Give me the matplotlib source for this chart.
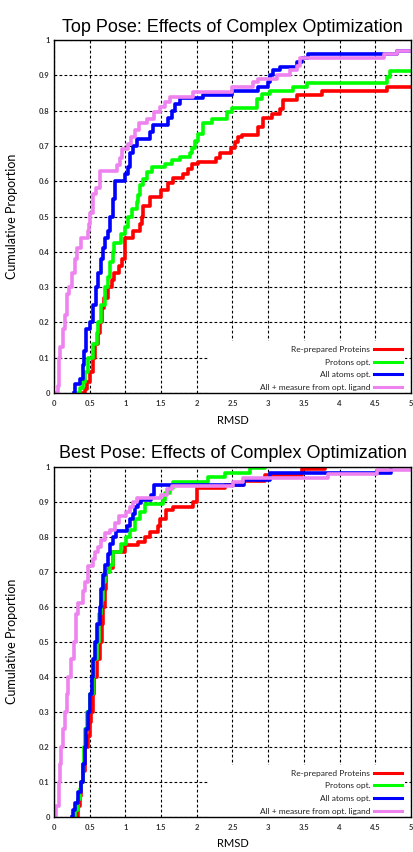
import matplotlib
matplotlib.use('Agg')
import matplotlib.pyplot as plt
from matplotlib.patches import Rectangle



### Data ###

series_labels = ['Re-prepared Proteins', 'Protons opt.', 'All atoms opt.', 'All + measure from opt. ligand']
series_colors = ['#ff0000', '#00ff00', '#0000ff', '#ee82ee']

x_ticks = [0, 0.5, 1, 1.5, 2, 2.5, 3, 3.5, 4, 4.5, 5]
x_tick_labels = ['0', '0.5', '1', '1.5', '2', '2.5', '3', '3.5', '4', '4.5', '5']
y_ticks = [0, 0.1, 0.2, 0.3, 0.4, 0.5, 0.6, 0.7, 0.8, 0.9, 1]
y_tick_labels = ['0', '0.1', '0.2', '0.3', '0.4', '0.5', '0.6', '0.7', '0.8', '0.9', '1']

# Top pose (RMSD where each step starts, cumulative proportion from there on)
top_red_x = [0.37, 0.43, 0.46, 0.50, 0.54, 0.58, 0.62, 0.64, 0.67, 0.70, 0.75, 0.81, 0.84, 0.91, 0.95,
             1.00, 1.10, 1.20, 1.23, 1.25, 1.35, 1.50, 1.60, 1.66, 1.81, 1.88, 1.94, 2.02, 2.27, 2.32,
             2.48, 2.53, 2.58, 2.63, 2.86, 2.93, 3.05, 3.17, 3.21, 3.40, 3.75, 4.66, 5.00]
top_red_y = [0, 0.01, 0.03, 0.06, 0.10, 0.14, 0.17, 0.20, 0.24, 0.27, 0.30, 0.32, 0.34, 0.36, 0.38,
             0.44, 0.46, 0.48, 0.50, 0.53, 0.555, 0.575, 0.595, 0.61, 0.62, 0.635, 0.65, 0.655, 0.665, 0.68,
             0.695, 0.71, 0.725, 0.73, 0.755, 0.78, 0.79, 0.805, 0.83, 0.845, 0.857, 0.867, 0.867]

top_green_x = [0.33, 0.36, 0.40, 0.44, 0.48, 0.54, 0.60, 0.62, 0.66, 0.72, 0.75, 0.78, 0.82, 0.84, 0.94,
               0.99, 1.04, 1.09, 1.16, 1.18, 1.20, 1.25, 1.30, 1.37, 1.55, 1.65, 1.76, 1.90, 1.94, 1.97,
               2.02, 2.09, 2.21, 2.42, 2.49, 2.84, 2.91, 3.03, 3.35, 3.54, 4.66, 4.71, 5.00]
top_green_y = [0, 0.015, 0.03, 0.06, 0.10, 0.14, 0.17, 0.20, 0.25, 0.30, 0.33, 0.37, 0.40, 0.425, 0.45,
               0.47, 0.50, 0.52, 0.54, 0.56, 0.59, 0.605, 0.625, 0.64, 0.65, 0.66, 0.67, 0.68, 0.695, 0.715,
               0.735, 0.765, 0.775, 0.795, 0.807, 0.833, 0.846, 0.857, 0.866, 0.878, 0.895, 0.912, 0.912]

top_blue_x = [0.28, 0.30, 0.37, 0.40, 0.42, 0.45, 0.51, 0.55, 0.59, 0.62, 0.66, 0.69, 0.72, 0.75, 0.79,
              0.82, 0.85, 1.00, 1.03, 1.07, 1.11, 1.16, 1.34, 1.38, 1.60, 1.65, 1.70, 1.76, 2.09, 2.49,
              2.86, 3.00, 3.03, 3.07, 3.17, 3.40, 3.47, 3.56, 4.62, 4.80, 5.00]
top_blue_y = [0, 0.025, 0.04, 0.08, 0.12, 0.18, 0.20, 0.25, 0.30, 0.34, 0.38, 0.41, 0.44, 0.46, 0.50,
              0.55, 0.60, 0.62, 0.64, 0.68, 0.70, 0.72, 0.74, 0.76, 0.78, 0.80, 0.82, 0.835, 0.845, 0.855,
              0.866, 0.88, 0.90, 0.915, 0.925, 0.937, 0.948, 0.96, 0.961, 0.97, 0.97]

top_pink_x = [0.03, 0.05, 0.07, 0.09, 0.12, 0.15, 0.18, 0.21, 0.25, 0.29, 0.32, 0.38, 0.47, 0.49, 0.51,
              0.54, 0.59, 0.64, 0.88, 0.92, 0.95, 1.04, 1.08, 1.13, 1.19, 1.30, 1.40, 1.48, 1.55, 1.63,
              1.95, 2.49, 2.79, 2.86, 3.12, 3.31, 3.40, 3.45, 4.62, 4.80, 5.00]
top_pink_y = [0, 0.02, 0.10, 0.13, 0.18, 0.22, 0.28, 0.30, 0.34, 0.38, 0.41, 0.44, 0.46, 0.48, 0.51,
              0.565, 0.58, 0.628, 0.645, 0.665, 0.69, 0.705, 0.725, 0.745, 0.765, 0.775, 0.795, 0.81, 0.825, 0.84,
              0.853, 0.868, 0.88, 0.89, 0.902, 0.915, 0.927, 0.948, 0.961, 0.97, 0.97]

# Best pose
best_red_x = [0.30, 0.33, 0.36, 0.38, 0.41, 0.44, 0.47, 0.50, 0.52, 0.54, 0.56, 0.60, 0.64, 0.67, 0.69,
              0.71, 0.73, 0.77, 0.83, 0.99, 1.18, 1.27, 1.34, 1.46, 1.49, 1.57, 1.67, 1.95, 2.00, 2.39,
              2.65, 2.95, 3.47, 3.80]
best_red_y = [0, 0.03, 0.06, 0.10, 0.13, 0.20, 0.23, 0.27, 0.30, 0.35, 0.40, 0.45, 0.50, 0.55, 0.60,
              0.65, 0.70, 0.71, 0.755, 0.775, 0.785, 0.80, 0.813, 0.83, 0.85, 0.875, 0.884, 0.90, 0.938, 0.948,
              0.96, 0.975, 0.993, 1.0]

best_green_x = [0.28, 0.30, 0.33, 0.36, 0.38, 0.40, 0.42, 0.44, 0.46, 0.50, 0.54, 0.565, 0.60, 0.63, 0.66,
                0.69, 0.72, 0.78, 0.83, 0.94, 1.01, 1.07, 1.14, 1.20, 1.28, 1.52, 1.56, 1.62, 1.67, 2.16,
                2.39, 2.74, 2.96]
best_green_y = [0, 0.02, 0.05, 0.08, 0.10, 0.15, 0.20, 0.25, 0.30, 0.35, 0.40, 0.45, 0.50, 0.58, 0.62,
                0.67, 0.70, 0.72, 0.755, 0.78, 0.80, 0.82, 0.85, 0.87, 0.893, 0.905, 0.925, 0.94, 0.957, 0.97,
                0.983, 0.995, 1.0]

best_blue_x = [0.25, 0.27, 0.30, 0.34, 0.38, 0.40, 0.43, 0.45, 0.48, 0.50, 0.53, 0.55, 0.58, 0.60, 0.64,
               0.66, 0.69, 0.72, 0.76, 0.79, 0.83, 0.87, 1.02, 1.06, 1.10, 1.14, 1.18, 1.22, 1.36, 1.40,
               2.66, 3.02, 4.72]
best_blue_y = [0, 0.02, 0.04, 0.07, 0.10, 0.15, 0.20, 0.25, 0.30, 0.35, 0.40, 0.45, 0.50, 0.55, 0.60,
               0.65, 0.69, 0.72, 0.75, 0.78, 0.80, 0.815, 0.83, 0.85, 0.865, 0.885, 0.895, 0.905, 0.92, 0.947,
               0.962, 0.982, 1.0]

best_pink_x = [0.02, 0.03, 0.07, 0.09, 0.10, 0.12, 0.15, 0.18, 0.20, 0.24, 0.28, 0.31, 0.34, 0.40, 0.43,
               0.48, 0.55, 0.58, 0.62, 0.66, 0.71, 0.78, 0.85, 0.91, 1.01, 1.07, 1.10, 1.16, 1.50, 1.58,
               1.65, 2.51, 2.65, 3.84, 4.52, 5.00]
best_pink_y = [0, 0.03, 0.10, 0.15, 0.20, 0.25, 0.30, 0.35, 0.40, 0.45, 0.50, 0.58, 0.61, 0.645, 0.67,
               0.715, 0.735, 0.755, 0.77, 0.79, 0.81, 0.82, 0.84, 0.86, 0.87, 0.885, 0.90, 0.91, 0.92, 0.935,
               0.945, 0.955, 0.967, 0.98, 0.99, 0.99]



### Draw one panel ###

def draw_panel(ax, title, xs, ys):

    # Curves, drawn red first so the violet one ends up on top
    for x, y, c, lab in zip(xs, ys, series_colors, series_labels):
        ax.step(x, y, where='post', color=c, lw=2.6, label=lab, zorder=2)

    ax.set_xlim(0, 5)
    ax.set_ylim(0, 1)
    ax.set_xticks(x_ticks)
    ax.set_xticklabels(x_tick_labels)
    ax.set_yticks(y_ticks)
    ax.set_yticklabels(y_tick_labels)
    ax.tick_params(length=0, labelsize=5.5, labelcolor='#333333')
    ax.tick_params(axis='x', pad=5)
    ax.tick_params(axis='y', pad=3)
    for t in ax.get_xticklabels() + ax.get_yticklabels():
        t.set_family('Lato')
        t.set_fontweight('bold')

    # gnuplot style dotted grid
    ax.set_axisbelow(True)
    ax.grid(True, color='black', lw=0.8, linestyle=(0, (2.5, 2)))
    for s in ax.spines.values():
        s.set_linewidth(1.0)

    # White box behind the key hides the grid there
    ax.add_patch(Rectangle((2.17, 0), 2.75, 0.148, facecolor='white', edgecolor='none', zorder=1))

    leg = ax.legend(loc='lower right', bbox_to_anchor=(0.976, 0.006), frameon=False, markerfirst=False,
                    prop={'family': 'Lato', 'size': 6}, handlelength=3.4, handletextpad=0.45,
                    labelspacing=0.68, borderpad=0, borderaxespad=0)
    for t in leg.get_texts():
        t.set_color('#222222')
    for h in leg.get_lines():
        h.set_linewidth(2.2)

    ax.set_title(title, family='Liberation Sans', fontsize=13, pad=6)
    ax.set_xlabel('RMSD', family='Lato', fontsize=8)
    ax.set_ylabel('Cumulative Proportion', family='Lato', fontsize=9)
    ax.xaxis.set_label_coords(0.5, -0.062)
    ax.yaxis.set_label_coords(-0.1, 0.5)



### Figure ###

fig = plt.figure(figsize=(4.14, 8.52), dpi=100)

ax_top = fig.add_axes([0.1304, 0.5387, 0.8623, 0.4143])
draw_panel(ax_top, 'Top Pose: Effects of Complex Optimization',
           [top_red_x, top_green_x, top_blue_x, top_pink_x],
           [top_red_y, top_green_y, top_blue_y, top_pink_y])

ax_best = fig.add_axes([0.1304, 0.0414, 0.8623, 0.4108])
draw_panel(ax_best, 'Best Pose: Effects of Complex Optimization',
           [best_red_x, best_green_x, best_blue_x, best_pink_x],
           [best_red_y, best_green_y, best_blue_y, best_pink_y])

fig.savefig('out.png', dpi=100)
